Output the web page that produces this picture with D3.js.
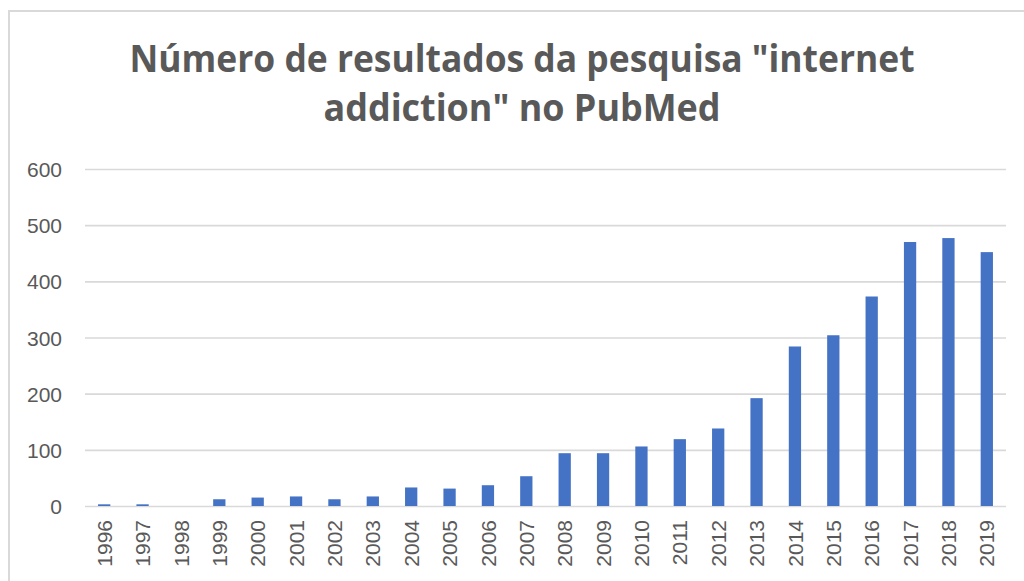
<!DOCTYPE html>
<html><head><meta charset="utf-8">
<script src="https://cdn.jsdelivr.net/npm/d3@7"></script>
<style>
html,body{margin:0;padding:0;background:#fff;}
svg{display:block;}
</style></head>
<body>
<script>
const years = ["1996","1997","1998","1999","2000","2001","2002","2003","2004","2005","2006","2007","2008","2009","2010","2011","2012","2013","2014","2015","2016","2017","2018","2019"];
const results = [3,3,0,12,15,17,12,17,33,31,37,53,94,94,106,119,138,192,284,304,373,470,477,452];
const yTicks = [0,100,200,300,400,500,600];
const titleLines = ["Número de resultados da pesquisa \"internet", "addiction\" no PubMed"];

const W = 1024, H = 581;
const svg = d3.select("body").append("svg").attr("width", W).attr("height", H);
svg.append("rect").attr("width", W).attr("height", H).attr("fill", "#fff");

// chart area border
svg.append("rect").attr("x", 9).attr("y", 11).attr("width", W + 20).attr("height", H + 20)
  .attr("fill", "none").attr("stroke", "#d9d9d9").attr("stroke-width", 2);

const plot = {left: 85, right: 1006, top: 169, bottom: 506};
const x = d3.scaleBand().domain(years).range([plot.left, plot.right]).paddingInner(0.68).paddingOuter(0.34);
const y = d3.scaleLinear().domain([0, 600]).range([plot.bottom, plot.top]);

// gridlines
const yAxis = d3.axisLeft(y).tickValues(yTicks).tickSize(-(plot.right - plot.left)).tickPadding(23);
const gy = svg.append("g").attr("transform", `translate(${plot.left},0)`).call(yAxis);
gy.select(".domain").remove();
gy.selectAll(".tick line").attr("stroke", "#d9d9d9").attr("stroke-width", 1.6);
gy.selectAll(".tick text").attr("fill", "#595959").attr("font-family", "Liberation Sans, Arial, sans-serif").attr("font-size", 21).attr("dy", "0.36em");

// bars
svg.append("g").selectAll("rect").data(years).join("rect")
  .attr("x", d => x(d))
  .attr("width", x.bandwidth())
  .attr("y", (d, i) => y(results[i]))
  .attr("height", (d, i) => y(0) - y(results[i]))
  .attr("fill", "#4472C4");

// x axis
const xAxis = d3.axisBottom(x).tickSize(0).tickPadding(0);
const gx = svg.append("g").attr("transform", `translate(0,${plot.bottom})`).call(xAxis);
gx.select(".domain").remove();
gx.selectAll(".tick text")
  .attr("fill", "#595959").attr("font-family", "Liberation Sans, Arial, sans-serif").attr("font-size", 21)
  .attr("text-anchor", "end").attr("transform", "rotate(-90)")
  .attr("x", -14).attr("y", 0).attr("dy", "0.36em");

// title
const title = svg.append("g");
const tl = [{t: titleLines[0], y: 72, w: 785}, {t: titleLines[1], y: 121, w: 397}];
tl.forEach(d => {
  const t = title.append("text").attr("x", 522).attr("y", d.y).attr("text-anchor", "middle")
    .attr("font-family", "Open Sans, sans-serif").attr("font-weight", 700).attr("font-size", 37)
    .attr("fill", "#595959").text(d.t);
  const len = t.node().getComputedTextLength();
  if (Math.abs(len - d.w) > 4) t.attr("textLength", d.w).attr("lengthAdjust", "spacingAndGlyphs");
});
</script>
</body></html>
